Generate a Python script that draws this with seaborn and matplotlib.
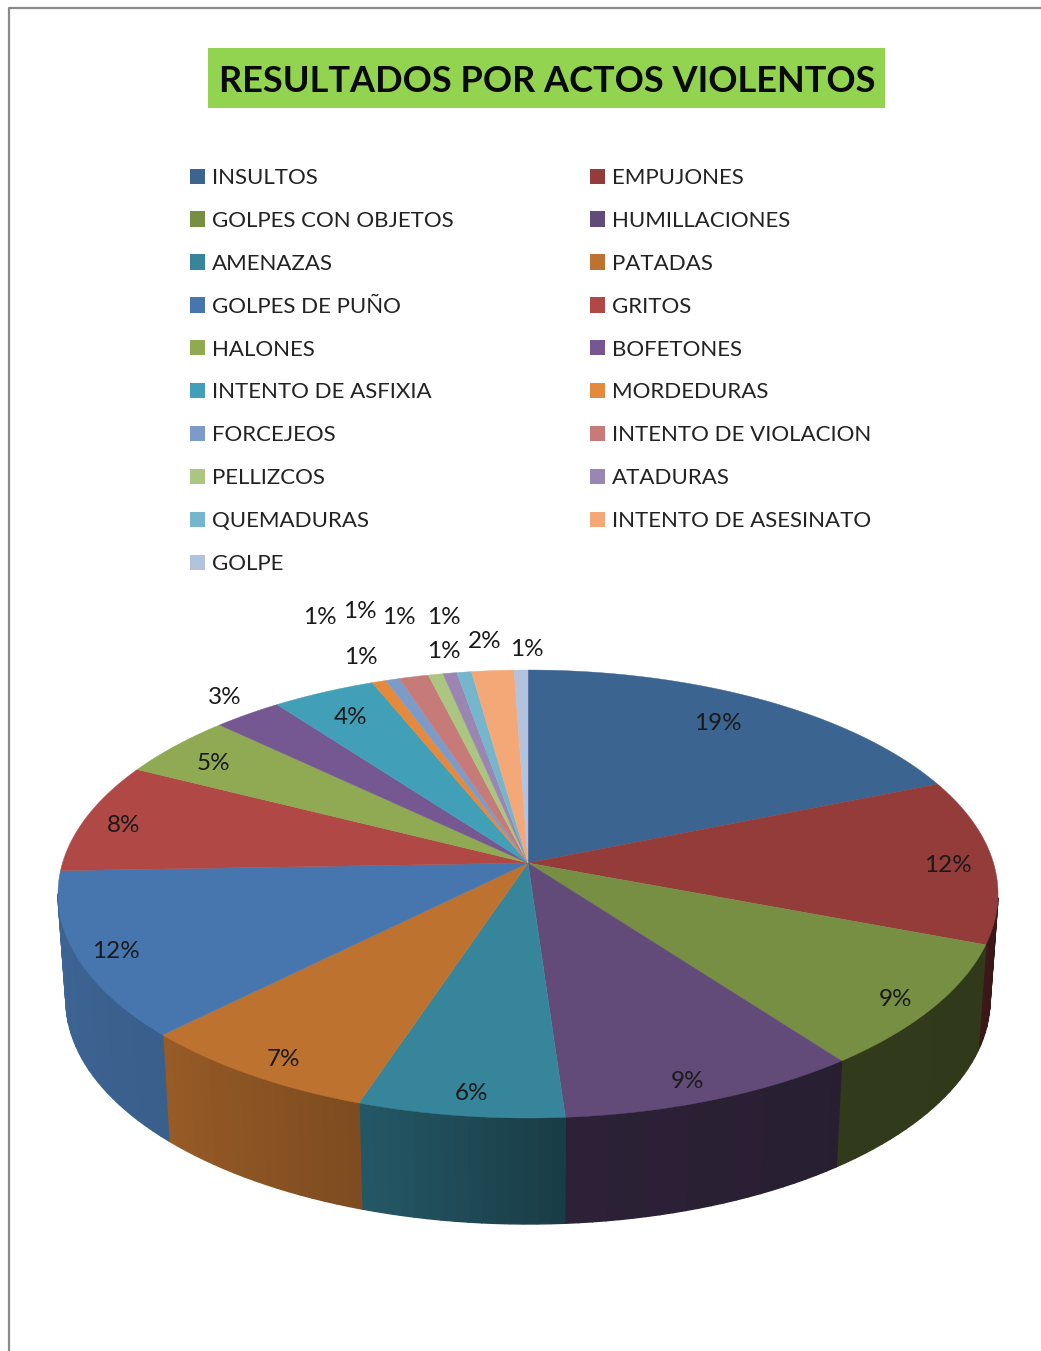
#!/usr/bin/env python3
"""Resultados por actos violentos - Excel style 3D pie, drawn with a perspective mapping."""

import numpy as np
import matplotlib
matplotlib.use("Agg")
import matplotlib.pyplot as plt
from matplotlib.patches import Patch, Rectangle
import seaborn as sns

# ------------------------------------------------------------------
# Data
# ------------------------------------------------------------------
title = "RESULTADOS POR ACTOS VIOLENTOS"
categories = ["INSULTOS", "EMPUJONES", "GOLPES CON OBJETOS", "HUMILLACIONES",
              "AMENAZAS", "PATADAS", "GOLPES DE PUÑO", "GRITOS", "HALONES",
              "BOFETONES", "INTENTO DE ASFIXIA", "MORDEDURAS", "FORCEJEOS",
              "INTENTO DE VIOLACION", "PELLIZCOS", "ATADURAS", "QUEMADURAS",
              "INTENTO DE ASESINATO", "GOLPE"]
values = [18.8, 11.9, 9.0, 9.1, 6.2, 7.4, 11.9, 8.0, 4.6, 2.7, 4.05,
          0.55, 0.55, 1.15, 0.58, 0.54, 0.58, 1.66, 0.54]
colors = ["#3B6490", "#933C3A", "#778F42", "#624A79", "#37859A", "#BD7230",
          "#4776AE", "#B04946", "#8FAA53", "#755892", "#429FB8", "#E58A3C",
          "#7D9BC9", "#C77B78", "#ABC680", "#9A86B1", "#76B6CC", "#F4A877",
          "#B3C3DE"]

# ------------------------------------------------------------------
# Layout (pixels of the 1041x1351 canvas)
# ------------------------------------------------------------------
label_pos = [(718, 724), (948, 865), (896, 999), (687, 1081), (471, 1093),
             (284, 1059), (116, 951), (124, 825), (213, 764), (225, 697),
             (351, 718), (361, 658), (320, 618), (360, 611), (399, 618),
             (444, 618), (444, 651), (485, 642), (527, 650)]

CX, CY = 528, 863          # where the slices meet
PERSP = 0.1384             # perspective strength of the top disc
SCALE_X, SCALE_Y = 465.5, 219.7
ELL_Y, ELL_RX, ELL_RY = 894, 470, 224      # top rim as an ellipse
LOW_Y, LOW_RX = 1000, 462                  # bottom rim of the wall

# side wall brightness against angle (clockwise from 12 o'clock)
shade_angle = [80, 143, 176, 198, 225, 270, 290]
shade_level = [0.40, 0.41, 0.45, 0.66, 0.80, 0.87, 0.90]


def rim(theta):
    """Point of the top disc rim for angle theta (radians, clockwise from top)."""
    u, v = np.sin(theta), np.cos(theta)
    d = 1 + PERSP * v
    return CX + SCALE_X * u / d, CY - SCALE_Y * v / d


def low_rim(theta):
    x, y = rim(theta)
    return CX + LOW_RX * (x - CX) / ELL_RX, LOW_Y + (y - ELL_Y)


sns.set_theme(style="white")
plt.rcParams["font.family"] = ["Lato", "DejaVu Sans"]
palette = sns.color_palette(colors)

fig = plt.figure(figsize=(10.41, 13.51), dpi=100)
ax = fig.add_axes([0, 0, 1, 1])
ax.set_xlim(0, 1041)
ax.set_ylim(1351, 0)
ax.axis("off")

# frame of the original screenshot
ax.plot([9, 9, 1041], [1351, 8, 8], color="#8A8A8A", lw=1.6, solid_capstyle="butt")

# title
ax.add_patch(Rectangle((208, 48), 677, 60, facecolor="#92D350", edgecolor="none"))
ax.text(547, 82, title, ha="center", va="center", fontsize=26,
        fontweight="bold", color="#0A0A0A")

# ------------------------------------------------------------------
# Pie
# ------------------------------------------------------------------
edges = np.radians(np.concatenate([[0], np.cumsum(values)]) / np.sum(values) * 360)

# side wall first
for i, col in enumerate(palette):
    a, b = edges[i], edges[i + 1]
    steps = np.linspace(a, b, max(2, int(np.degrees(b - a) / 1.5) + 2))
    for t0, t1 in zip(steps[:-1], steps[1:]):
        _, y0 = rim(t0)
        _, y1 = rim(t1)
        if min(y0, y1) < ELL_Y - 2:
            continue
        level = np.interp(np.degrees((t0 + t1) / 2), shade_angle, shade_level)
        tone = tuple(np.array(col) * level)
        x = [rim(t0)[0], rim(t1)[0], low_rim(t1)[0], low_rim(t0)[0]]
        y = [y0, y1, low_rim(t1)[1], low_rim(t0)[1]]
        ax.fill(x, y, color=tone, lw=1.0, zorder=2)

# top disc
for i, col in enumerate(palette):
    t = np.linspace(edges[i], edges[i + 1], 80)
    x, y = rim(t)
    ax.fill(np.r_[CX, x], np.r_[CY, y], color=col, lw=0.3, zorder=3)

for val, (lx, ly) in zip(values, label_pos):
    ax.text(lx, ly, f"{round(val)}%", ha="center", va="center", fontsize=17.5,
            color="#1A1A1A", zorder=5)

# ------------------------------------------------------------------
# Legend: two columns, read row by row
# ------------------------------------------------------------------
handles = [Patch(facecolor=c, edgecolor="none", label=n) for c, n in zip(palette, categories)]
leg_kw = dict(loc="upper left", frameon=False, fontsize=16, borderpad=0, borderaxespad=0,
              handlelength=0.68, handleheight=0.68, handletextpad=0.3, labelspacing=1.03,
              labelcolor="#222222", bbox_transform=ax.transData)
left = ax.legend(handles=handles[0::2], bbox_to_anchor=(190, 168), **leg_kw)
ax.add_artist(left)
ax.legend(handles=handles[1::2], bbox_to_anchor=(590, 168), **leg_kw)

fig.savefig("out.png", dpi=100)
plt.close(fig)
